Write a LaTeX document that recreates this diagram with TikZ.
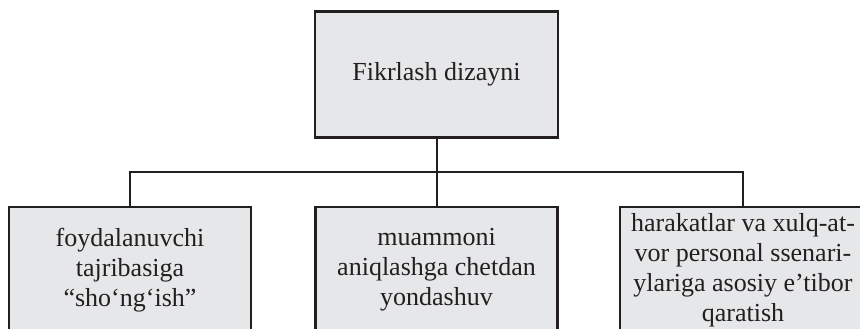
\documentclass[tikz,border=0pt]{standalone}
\usepackage{fontspec}
\setmainfont{Liberation Serif}
\usepackage{tikz}
\usetikzlibrary{positioning,calc}
\definecolor{boxfill}{HTML}{E6E7E8}
\definecolor{boxline}{HTML}{231F20}
\tikzset{
  ideabox/.style={draw=boxline, fill=boxfill, line width=2.6pt, minimum height=126pt, align=center, inner sep=0pt, font=\fontsize{26}{30}\selectfont, text=boxline},
  link/.style={draw=boxline, line width=2pt}
}
\begin{document}
\begin{tikzpicture}[x=1pt,y=-1pt]
\clip (0,0) rectangle (860,329);
\fill[white] (0,0) rectangle (860,329);
\node[ideabox, minimum width=243pt, anchor=north] (fikr) at (436.5,10) {Fikrlash dizayni};
\node[ideabox, minimum width=242pt, anchor=north] (tajriba) at (130,205.5) {foydalanuvchi\\tajribasiga\\“sho‘ng‘ish”};
\node[ideabox, minimum width=242pt, anchor=north] (muammo) at (436.5,205.5) {muammoni\\aniqlashga chetdan\\yondashuv};
\node[ideabox, minimum width=246pt, anchor=north] (harakat) at (743,205.5) {harakatlar va xulq-at-\\vor personal ssenari-\\ylariga asosiy e’tibor\\qaratish};
\coordinate (bus) at (436.5,172);
\draw[link] (fikr.south) -- (bus);
\draw[link] (tajriba.north) |- (bus) -| (harakat.north);
\draw[link] (muammo.north) -- (bus);
\end{tikzpicture}
\end{document}
